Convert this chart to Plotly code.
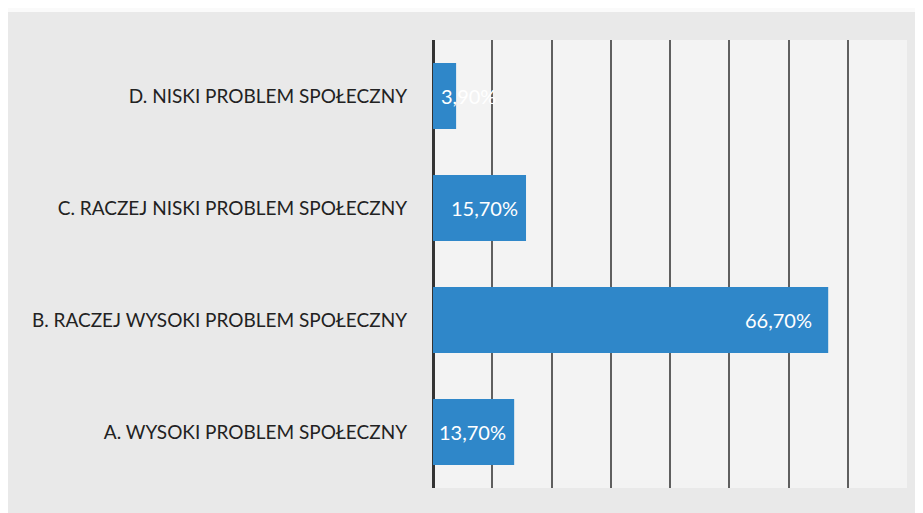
import plotly.graph_objects as go

categories = [
    "A. WYSOKI PROBLEM SPOŁECZNY",
    "B. RACZEJ WYSOKI PROBLEM SPOŁECZNY",
    "C. RACZEJ NISKI PROBLEM SPOŁECZNY",
    "D. NISKI PROBLEM SPOŁECZNY",
]
values = [13.7, 66.7, 15.7, 3.9]
labels = [f"{v:.2f}%".replace(".", ",") for v in values]

BLUE = "#2f87c9"
FONT = "Lato, Open Sans, sans-serif"

fig = go.Figure()
fig.add_trace(go.Bar(
    x=values,
    y=categories,
    orientation="h",
    marker=dict(color=BLUE, line=dict(width=0)),
    hovertext=labels,
    hoverinfo="y+text",
))

# value labels: inside the bar end, or from the axis when the bar is too short
for cat, v, lab in zip(categories, values, labels):
    if v > 8:
        fig.add_annotation(x=v, y=cat, text=lab, showarrow=False,
                           xanchor="right", xshift=-6 if v < 20 else -14)
    else:
        fig.add_annotation(x=0, y=cat, text=lab, showarrow=False,
                           xanchor="left", xshift=6)
fig.update_annotations(font=dict(family=FONT, size=20, color="white"))

# white strip at the top of the scanned page
fig.add_shape(type="rect", xref="paper", yref="paper",
              x0=-1, x1=1.1, y0=1.0625, y1=1.2,
              fillcolor="#fafafa", line=dict(width=0), layer="below")

# page body has an 8px margin, so the figure is sized to fit inside it
fig.update_layout(
    width=915,
    height=505,
    margin=dict(l=425, r=16, t=32, b=25),
    paper_bgcolor="#e9e9e9",
    plot_bgcolor="#f3f3f3",
    bargap=0.41,
    showlegend=False,
    font=dict(family=FONT, size=19, color="#222222"),
)
fig.update_xaxes(
    range=[0, 80],
    dtick=10,
    showticklabels=False,
    showgrid=True,
    gridcolor="rgba(45,45,45,0.75)",
    gridwidth=2,
    zeroline=True,
    zerolinecolor="#333333",
    zerolinewidth=3,
    layer="above traces",
    fixedrange=True,
)
fig.update_yaxes(
    showgrid=False,
    ticks="",
    ticklabelstandoff=25,
    tickfont=dict(family=FONT, size=19, color="#222222"),
    fixedrange=True,
)

fig.write_html("out.html")
